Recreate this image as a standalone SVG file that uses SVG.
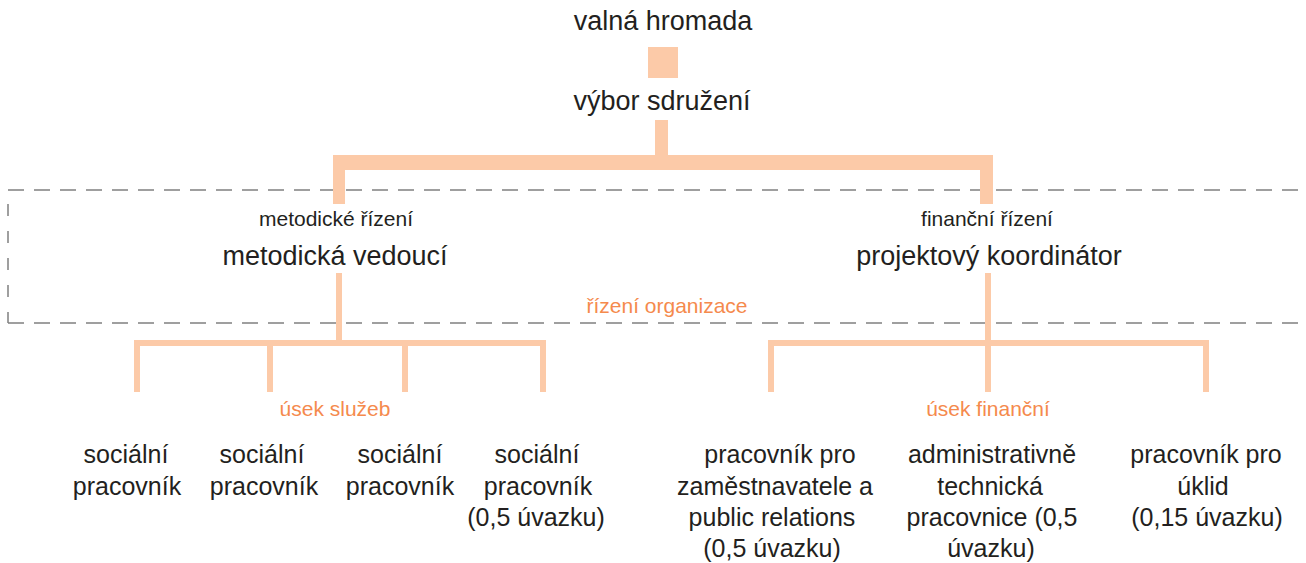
<svg xmlns="http://www.w3.org/2000/svg" width="1306" height="563" viewBox="0 0 1306 563">
<style>
text{font-family:"Liberation Sans",Arial,sans-serif;fill:#231f20;text-anchor:middle}
.big{font-size:27px}
.small{font-size:21px}
.item{font-size:25px}
.sec{font-size:21px;fill:#f58a4d}
.bar{fill:#fccaa8}
.thin{stroke:#fccaa8;stroke-width:6;fill:none}
.dash{stroke:#808080;stroke-width:1.5;fill:none;stroke-dasharray:16 10}
.vdash{stroke:#808080;stroke-width:1.5;fill:none;stroke-dasharray:12 15}
</style>
<rect width="1306" height="563" fill="#ffffff"/>
<g id="zone-rizeni">
<path class="dash" d="M8,190 H1306 M8,323 H1306"/>
<path class="vdash" d="M8,204 V323"/>
<text class="sec" x="667" y="313">řízení organizace</text>
</g>
<g id="connectors">
<rect class="bar" x="648" y="47" width="30" height="31"/>
<rect class="bar" x="655" y="120" width="13" height="40"/>
<rect class="bar" x="333" y="155" width="660" height="15"/>
<rect class="bar" x="333" y="155" width="12" height="49"/>
<rect class="bar" x="980" y="155" width="13" height="49"/>
<path class="thin" d="M339,273 V343 M134,343 H546 M137,343 V392 M270,343 V392 M405,343 V392 M543,343 V392"/>
<path class="thin" d="M988,273 V343 M768,343 H1209 M771,343 V392 M988,343 V392 M1206,343 V392"/>
</g>
<g id="valna-hromada"><text class="big" x="663" y="30">valná hromada</text></g>
<g id="vybor"><text class="big" x="662" y="110">výbor sdružení</text></g>
<g id="metodicka-vedouci">
<text class="small" x="336" y="226">metodické řízení</text>
<text class="big" x="335" y="265">metodická vedoucí</text>
</g>
<g id="projektovy-koordinator">
<text class="small" x="987" y="226">finanční řízení</text>
<text class="big" x="989" y="265">projektový koordinátor</text>
</g>
<g id="usek-sluzeb"><text class="sec" x="335" y="416">úsek služeb</text></g>
<g id="usek-financni"><text class="sec" x="988" y="416">úsek finanční</text></g>
<g id="socialni-1"><text class="item" x="126" y="463">sociální</text><text class="item" x="127" y="494.5">pracovník</text></g>
<g id="socialni-2"><text class="item" x="262" y="463">sociální</text><text class="item" x="264" y="494.5">pracovník</text></g>
<g id="socialni-3"><text class="item" x="400" y="463">sociální</text><text class="item" x="400" y="494.5">pracovník</text></g>
<g id="socialni-4"><text class="item" x="537" y="463">sociální</text><text class="item" x="538" y="494.5">pracovník</text><text class="item" x="536" y="526">(0,5 úvazku)</text></g>
<g id="pr"><text class="item" x="780" y="463">pracovník pro</text><text class="item" x="775" y="494.5">zaměstnavatele a</text><text class="item" x="772" y="526">public relations</text><text class="item" x="772" y="557">(0,5 úvazku)</text></g>
<g id="admin"><text class="item" x="992" y="463">administrativně</text><text class="item" x="990" y="494.5">technická</text><text class="item" x="992" y="526">pracovnice (0,5</text><text class="item" x="991" y="557">úvazku)</text></g>
<g id="uklid"><text class="item" x="1206" y="463">pracovník pro</text><text class="item" x="1203" y="494.5">úklid</text><text class="item" x="1207" y="526">(0,15 úvazku)</text></g>
</svg>
